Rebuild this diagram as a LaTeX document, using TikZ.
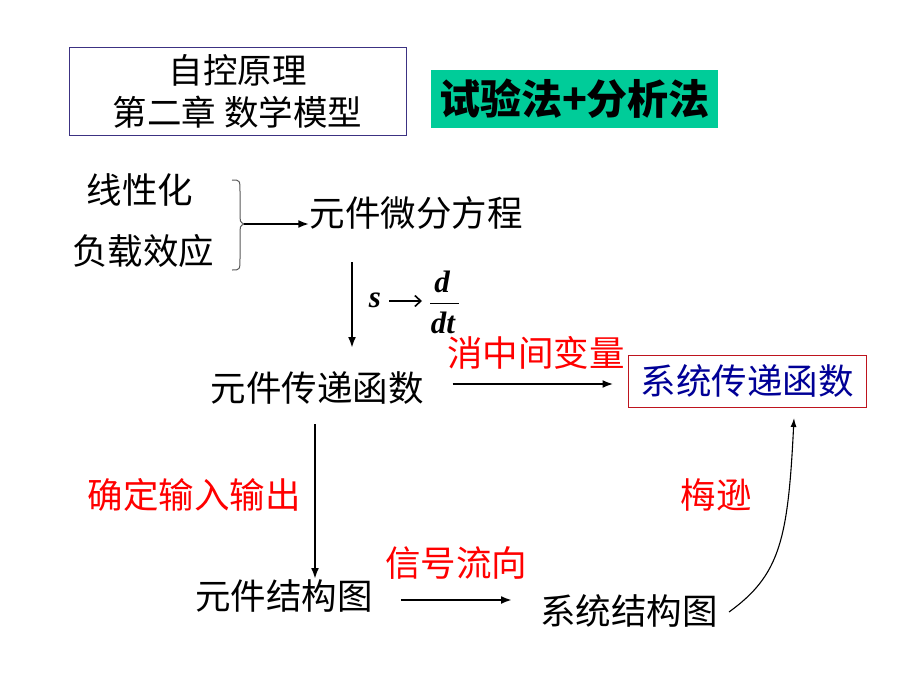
\documentclass[tikz,border=0pt]{standalone}
\usepackage{fontspec}
\setmainfont{Noto Sans CJK SC}
\newfontfamily\tms{Liberation Serif}
\usetikzlibrary{arrows.meta}
\definecolor{titleblue}{RGB}{60,50,130}
\definecolor{boxgreen}{RGB}{0,204,153}
\definecolor{boxred}{RGB}{190,20,30}
\definecolor{navytext}{RGB}{0,0,150}
\newcommand\fsmain{\fontsize{35.5}{40}\selectfont}
\begin{document}
\begin{tikzpicture}[x=1pt,y=-1pt,
  lbl/.style={inner sep=0pt,font=\fsmain},
  redlbl/.style={lbl,text=red},
  flow/.style={line width=2.8pt,-{Latex[length=11pt,width=8pt]}},
  thinflow/.style={line width=1.1pt,-{Latex[length=9pt,width=6pt]}},
  mathlbl/.style={inner sep=0pt,font=\tms\bfseries\itshape\fontsize{31}{33}\selectfont}]
\useasboundingbox[fill=white] (0,0) rectangle (920,690);

% title box
\node[draw=titleblue,line width=1pt,minimum width=337pt,minimum height=87pt,
      inner sep=0pt,align=center,font=\fontsize{34.5}{42}\selectfont]
  (title) at (237.5,91.5) {自控原理\\第二章 数学模型};
% green box
\node[fill=boxgreen,minimum width=287pt,minimum height=58pt,inner sep=0pt,
      font=\fontsize{41}{44}\selectfont\bfseries] (green) at (574.5,99) {试验法+分析法};

% left inputs
\node[lbl] (lin) at (140,190) {线性化};
\node[lbl] (load) at (143,251) {负载效应};
\coordinate (btop) at (232,180);
\coordinate (btip) at (244,224);
\coordinate (bbot) at (232,270);
\draw[gray!70!black,line width=1pt]
  (btop) .. controls (240,180) .. (240,192) -- (240,212)
  .. controls (240,222) .. (btip)
  .. controls (240,226) .. (240,236) -- (240,258)
  .. controls (240,270) .. (bbot);

\node[lbl] (diffeq) at (416,213) {元件微分方程};
\draw[flow] (btip) -- (diffeq.west |- btip);

% s -> d/dt
\coordinate (v1s) at (352,262);
\node[lbl] (tf) at (317,388) {元件传递函数};
\coordinate (v1e) at (352,348);
\draw[flow] (v1s) -- (v1e);
\node[mathlbl] (svar) at (375,300) {s};
\coordinate (arrs) at (389,301);
\coordinate (arre) at (422,301);
\draw[line width=1.6pt,-{Straight Barb[length=6pt,width=11pt,line width=1.6pt]}] (arrs) -- (arre);
\node[mathlbl] (dnum) at (442,282) {d};
\node[mathlbl] (dden) at (443,323) {dt};
\draw[line width=1pt] (430,303) -- (459,303);

% tf -> system tf
\node[draw=boxred,line width=1pt,minimum width=238pt,minimum height=52pt,inner sep=0pt,
      text=navytext,font=\fsmain] (systf) at (747,381) {系统传递函数};
\draw[flow,shorten <=29pt,shorten >=14pt] (tf.east |- 0,384) -- (systf.west |- 0,384);
\node[redlbl] (elim) at (536,353) {消中间变量};

% tf -> struct
\node[lbl] (struct) at (284,596) {元件结构图};
\draw[flow] (315,424) -- (315,579);
\node[redlbl] (io) at (194,495) {确定输入输出};

% struct -> sys struct
\node[lbl] (sysstruct) at (629,611) {系统结构图};
\draw[flow,shorten <=28pt,shorten >=28pt] (struct.east |- 0,600) -- (sysstruct.west |- 0,600);
\node[redlbl] (signal) at (456,563) {信号流向};

% sys struct -> sys tf (Mason)
\coordinate (cstart) at (729,612);
\coordinate (cend) at (794,418);
\draw[thinflow] (cstart) .. controls (780,575) and (788,540) .. (cend);
\node[redlbl] (mason) at (716,495) {梅逊};
\end{tikzpicture}
\end{document}
